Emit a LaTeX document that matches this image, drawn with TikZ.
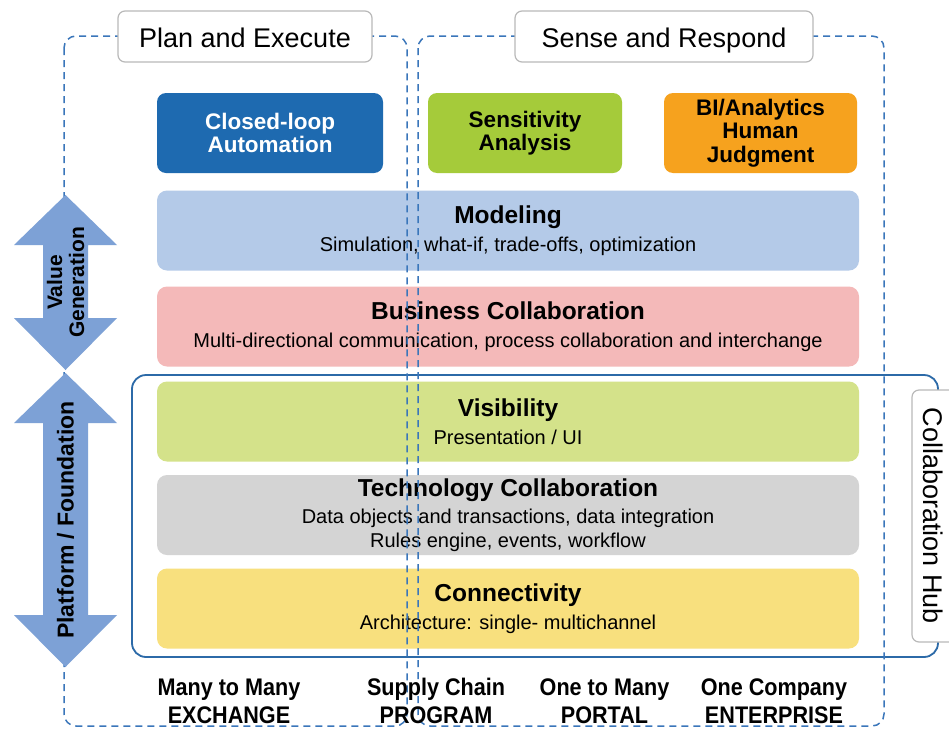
\documentclass[tikz,border=0pt]{standalone}
\usepackage{fontspec}
\setmainfont{Liberation Sans}
\newfontfamily\narrowfont[FakeStretch=0.9]{Liberation Sans}
\usepackage{xcolor}
\usepackage{tikz}
\usetikzlibrary{positioning}
\definecolor{loopblue}{HTML}{1E6AB0}
\definecolor{sensegreen}{HTML}{A5CB3A}
\definecolor{bioran}{HTML}{F6A21E}
\definecolor{modblue}{HTML}{B4CAE8}
\definecolor{buspink}{HTML}{F4B9B9}
\definecolor{visgreen}{HTML}{D4E28A}
\definecolor{techgray}{HTML}{D4D4D4}
\definecolor{connyellow}{HTML}{F8E07E}
\definecolor{hubblue}{HTML}{2C6AA8}
\definecolor{zoneblue}{HTML}{3A76BA}
\definecolor{arrowblue}{HTML}{7DA1D6}
\newcommand{\layertitle}{\bfseries\fontsize{24.5}{28}\selectfont}
\tikzset{
  topbox/.style = {rounded corners=9pt, align=center, minimum width=226pt, minimum height=80pt,
                   font=\bfseries\fontsize{22.5}{23.5}\selectfont, inner sep=0pt},
  layer/.style = {rounded corners=10pt, align=center, minimum width=702pt, minimum height=80pt,
                  font=\fontsize{20}{23.5}\selectfont, inner sep=0pt},
  tag/.style = {draw=gray!55, fill=white, rounded corners=7pt, line width=1.2pt,
                minimum height=51pt, text height=24pt, text depth=3pt,
                font=\fontsize{27}{30}\selectfont, inner sep=0pt},
  zone/.style = {draw=zoneblue, line width=1.5pt, dash pattern=on 7pt off 5pt, rounded corners=12pt},
  hubframe/.style = {draw=hubblue, line width=1.8pt, rounded corners=14pt},
  updown/.style = {fill=arrowblue},
  arrowtext/.style = {rotate=90, align=center, font=\bfseries\fontsize{21}{22}\selectfont, inner sep=0pt},
  kind/.style = {align=center, font=\narrowfont\bfseries\fontsize{24}{28}\selectfont, inner sep=0pt}
}
\begin{document}
\begin{tikzpicture}[x=1pt,y=-1pt]
\useasboundingbox[fill=white] (0,0) rectangle (949,728);

% decision styles on top
\node[topbox, fill=loopblue, text=white] (loop) at (270,133) {Closed-loop\\Automation};
\node[topbox, fill=sensegreen, minimum width=194pt] (sens) at (525,133) {Sensitivity\\Analysis};
\node[topbox, fill=bioran, minimum width=193pt] (bi) at (760.5,133) {BI/Analytics\\Human\\Judgment};

% the stack of layers
\node[layer, fill=modblue] (model) at (508,230.5)
  {{\layertitle Modeling}\\[4pt]Simulation, what-if, trade-offs, optimization};
\node[layer, fill=buspink] (busc) at (508,326.5)
  {{\layertitle Business Collaboration}\\[4pt]Multi-directional communication, process collaboration and interchange};
\node[layer, fill=visgreen] (vis) at (508,421.5)
  {{\layertitle Visibility}\\[4pt]Presentation / UI};
\node[layer, fill=techgray] (tech) at (508,515)
  {{\layertitle Technology Collaboration}\\[4pt]Data objects and transactions, data integration\\Rules engine, events, workflow};
\node[layer, fill=connyellow] (conn) at (508,608.5)
  {{\layertitle Connectivity}\\[4pt]Architecture: single- multichannel};

% collaboration hub frame
\draw[hubframe] (132,375) rectangle (938,657);
\node[tag, rotate=-90, minimum width=252pt, minimum height=44pt] (hub) at (934,516) {Collaboration Hub};

% the two zones
\draw[zone] (64,36) rectangle (407,726);
\draw[zone] (418,36) rectangle (884,726);
\node[tag, minimum width=254pt] (plan) at (245,36.5) {Plan and Execute};
\node[tag, minimum width=298pt] (sense) at (664,36.5) {Sense and Respond};

% double arrows on the left
\fill[updown] (65.5,195) -- (117,245) -- (88,245) -- (88,318) -- (117,318) -- (65.5,370)
  -- (14,318) -- (43,318) -- (43,245) -- (14,245) -- cycle;
\node[arrowtext] (value) at (65.5,282.5) {Value\\Generation};
\fill[updown] (65.5,373) -- (117,423) -- (88,423) -- (88,615) -- (117,615) -- (65.5,667)
  -- (14,615) -- (43,615) -- (43,423) -- (14,423) -- cycle;
\node[arrowtext, font=\bfseries\fontsize{23}{24}\selectfont] (platform) at (65.5,520) {Platform / Foundation};

% kinds of hub along the bottom
\node[kind] (exch) at (229,701) {Many to Many\\EXCHANGE};
\node[kind] (prog) at (436,701) {Supply Chain\\PROGRAM};
\node[kind] (portal) at (604.5,701) {One to Many\\PORTAL};
\node[kind] (ent) at (774,701) {One Company\\ENTERPRISE};
\end{tikzpicture}
\end{document}
